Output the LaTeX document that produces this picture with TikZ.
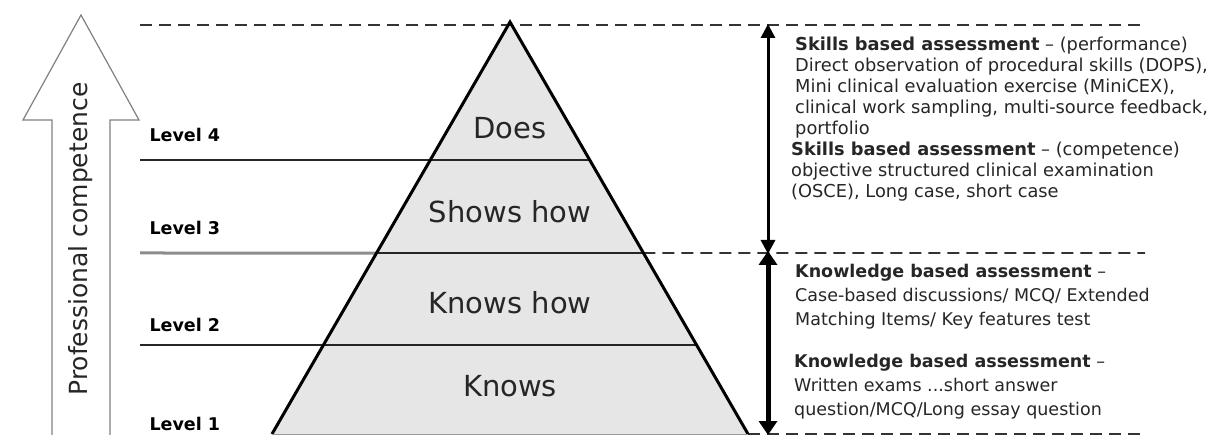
\documentclass[tikz,border=0pt]{standalone}
\usepackage{fontspec}
\setmainfont{DejaVu Sans}
\usepackage{xcolor}
\usetikzlibrary{positioning,calc,arrows.meta}

\definecolor{pyrfill}{HTML}{E6E6E6}
\definecolor{dashgray}{HTML}{333333}

\begin{document}
\begin{tikzpicture}[x=1pt,y=-1pt,
    levellabel/.style={anchor=west, font=\fontsize{17.5}{20}\selectfont\bfseries},
    tierlabel/.style={font=\fontsize{29}{34}\selectfont, text=black!85},
    infotext/.style={anchor=north west, align=left, inner sep=0pt, font=\fontsize{17.8}{21}\selectfont, text=black!85},
    sepline/.style={line width=1.6pt, black!85},
    dashline/.style={line width=1.8pt, dashgray, dash pattern=on 12pt off 7pt}]
    \useasboundingbox (0,0) rectangle (1214,435);

    % hollow arrow
    \draw[black!50, line width=1.2pt, fill=white] (52,440) -- (52,120) -- (23,120) -- (81,15) -- (139,120) -- (110,120) -- (110,440) ;
    \node[rotate=90, font=\fontsize{25}{30}\selectfont, text=black!85] (comp) at (81,239) {Professional competence};

    % pyramid
    \coordinate (apex) at (510,22);
    \coordinate (bl) at (272,434);
    \coordinate (br) at (748,434);
    \fill[pyrfill] (apex) -- (bl) -- (br) -- cycle;

    \coordinate (l4) at ($(apex)!0.335!(bl)$);
    \coordinate (r4) at ($(apex)!0.335!(br)$);
    \coordinate (l3) at ($(apex)!0.5607!(bl)$);
    \coordinate (r3) at ($(apex)!0.5607!(br)$);
    \coordinate (l2) at ($(apex)!0.784!(bl)$);
    \coordinate (r2) at ($(apex)!0.784!(br)$);

    \draw[sepline] (140,160) -- (r4);
    \draw[black!45, line width=3pt] (140,253) -- (l3);
    \draw[sepline] (l3) -- (r3);
    \draw[sepline] (140,345) -- (r2);

    \draw[dashline] (140,25) -- (1140,25);
    \draw[dashline] (r3) -- (1145,253);
    \draw[dashline] (br) -- (1145,434);

    \draw[line width=3pt, line join=miter] (bl) -- (apex) -- (br);
    \draw[black!40, line width=1pt] (bl) -- (br);

    \node[tierlabel] (does) at (510,128) {Does};
    \node[tierlabel] (shows) at (510,212) {Shows how};
    \node[tierlabel] (knowshow) at (510,303) {Knows how};
    \node[tierlabel] (knows) at (510,386) {Knows};

    \node[levellabel] (lv4) at (146,135) {Level 4};
    \node[levellabel] (lv3) at (146,228) {Level 3};
    \node[levellabel] (lv2) at (146,325) {Level 2};
    \node[levellabel] (lv1) at (146,424) {Level 1};

    % assessment arrows
    \coordinate (atop) at (768,24);
    \coordinate (amid) at (768,253);
    \coordinate (abot) at (768,435);
    \draw[line width=3pt, {Triangle[length=14pt,width=14pt]}-{Triangle[length=14pt,width=14pt]}] (atop) -- ([yshift=-1pt]amid);
    \draw[line width=5pt, {Triangle[length=14pt,width=18pt]}-{Triangle[length=14pt,width=18pt]}] ([yshift=2pt]amid) -- (abot);

    \node[infotext] (perf) at (795,37) {\textbf{Skills based assessment} – (performance)\\
        Direct observation of procedural skills (DOPS),\\
        Mini clinical evaluation exercise (MiniCEX),\\
        clinical work sampling, multi-source feedback,\\
        portfolio};
    \node[infotext] (compt) at (791,142) {\textbf{Skills based assessment} – (competence)\\
        objective structured clinical examination\\
        (OSCE), Long case, short case};
    \node[infotext, font=\fontsize{17.5}{24}\selectfont] (know1) at (795,264) {\textbf{Knowledge based assessment} –\\
        Case-based discussions/ MCQ/ Extended\\
        Matching Items/ Key features test};
    \node[infotext, font=\fontsize{17.5}{24}\selectfont] (know2) at (794,354) {\textbf{Knowledge based assessment} –\\
        Written exams ...short answer\\
        question/MCQ/Long essay question};
\end{tikzpicture}
\end{document}
